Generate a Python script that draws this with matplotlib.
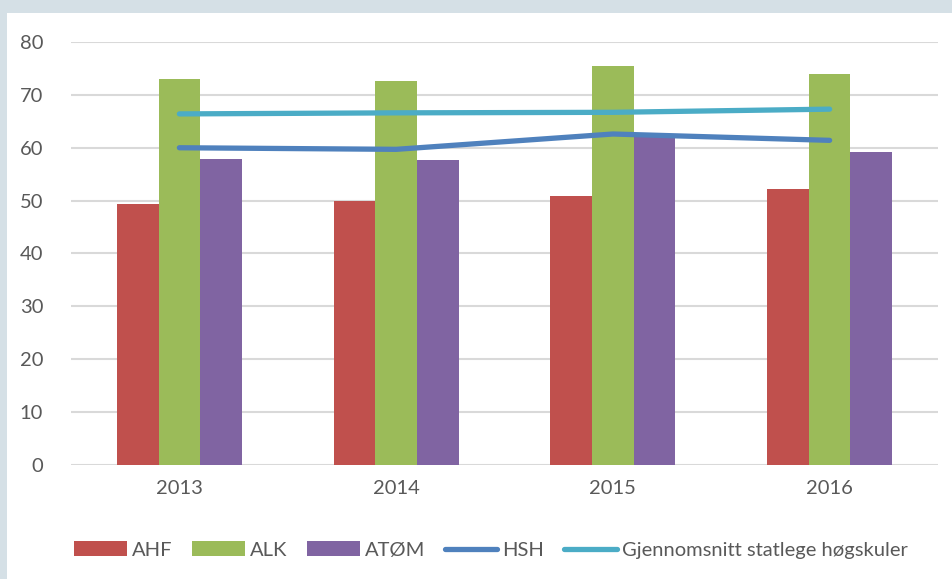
import matplotlib
matplotlib.use("Agg")
import matplotlib.pyplot as plt
import numpy as np
from matplotlib.patches import Rectangle

years = ["2013", "2014", "2015", "2016"]
ahf = [49.3, 49.9, 50.9, 52.2]
alk = [73.0, 72.6, 75.4, 73.9]
atom = [57.8, 57.7, 62.2, 59.2]
hsh = [60.0, 59.7, 62.6, 61.4]
snitt = [66.4, 66.6, 66.7, 67.3]

plt.rcParams['font.family'] = ['Lato', 'DejaVu Sans']

fig = plt.figure(figsize=(9.52, 5.79), dpi=100, facecolor="#d5e0e6")
W, H = 952, 579
bg = Rectangle((7 / W, 0), 1 - 7 / W, 1 - 13 / H, transform=fig.transFigure,
               facecolor="white", edgecolor="none", zorder=-10)
fig.add_artist(bg)

ax = fig.add_axes([71 / W, (H - 465) / H, (938 - 71) / W, (465 - 42) / H])
ax.set_zorder(5)
ax.set_facecolor("none")
x = np.arange(len(years))
bw = 0.192
b1 = ax.bar(x - bw, ahf, bw, color="#c0504d", label="AHF", zorder=2)
b2 = ax.bar(x, alk, bw, color="#9bbb59", label="ALK", zorder=2)
b3 = ax.bar(x + bw, atom, bw, color="#8064a2", label="ATØM", zorder=2)
l1, = ax.plot(x, hsh, color="#4f81bd", lw=3.8, solid_capstyle="round", label="HSH", zorder=3)
l2, = ax.plot(x, snitt, color="#4bacc6", lw=3.8, solid_capstyle="round",
              label="Gjennomsnitt statlege høgskuler", zorder=3)

ax.set_xlim(-0.5, 3.5)
ax.set_ylim(0, 80)
ax.set_yticks(range(0, 81, 10))
ax.set_xticks(x)
ax.set_xticklabels(years)
ax.yaxis.grid(True, color="#d9d9d9", lw=1.5, zorder=0)
ax.set_axisbelow(True)
for s in ax.spines.values():
    s.set_visible(False)
ax.tick_params(length=0, labelsize=14.5, colors="#595959")
ax.tick_params(axis="y", pad=20)
ax.tick_params(axis="x", pad=11)

leg = ax.legend([b1, b2, b3, l1, l2],
                ["AHF", "ALK", "ATØM", "HSH", "Gjennomsnitt statlege høgskuler"],
                loc="center", bbox_to_anchor=(491 / W, (H - 550) / H),
                bbox_transform=fig.transFigure, ncol=5, frameon=False,
                fontsize=14.5, handlelength=2.6, handleheight=0.75,
                handletextpad=0.25, columnspacing=1.0, labelcolor="#595959")

fig.savefig("out.png", dpi=100, facecolor=fig.get_facecolor())
